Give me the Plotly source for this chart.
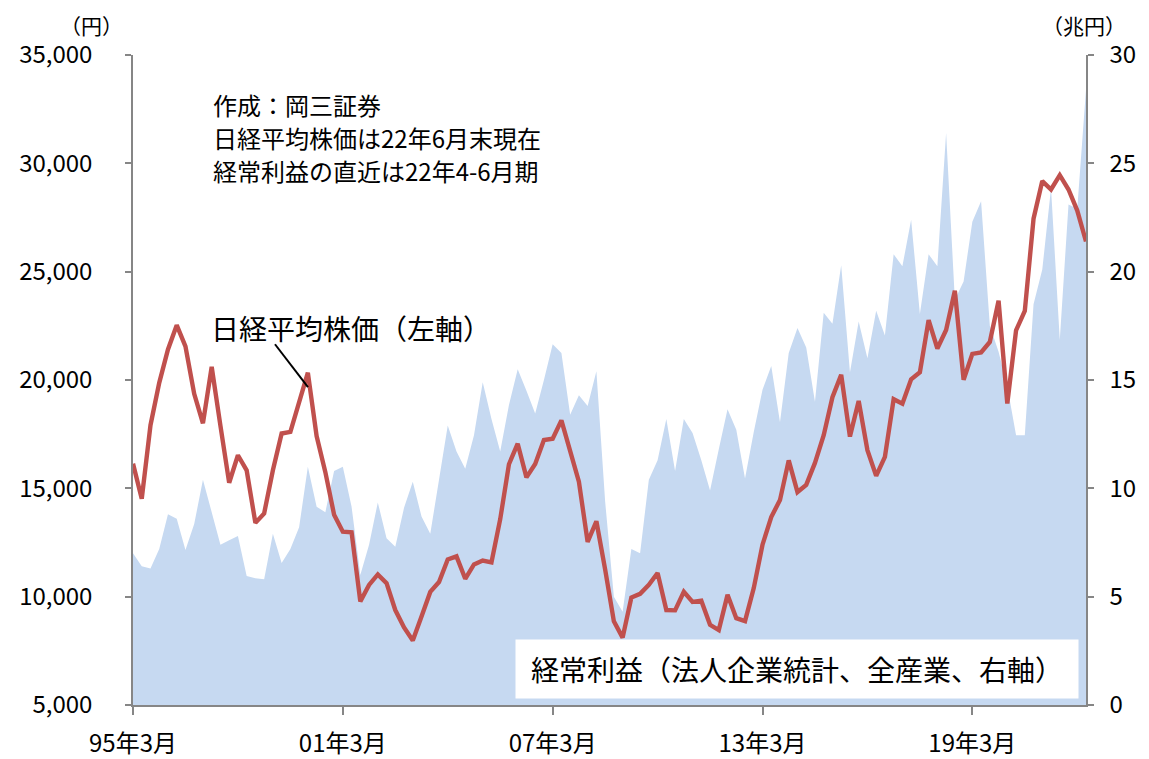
import plotly.graph_objects as go

# Quarterly categories: 1995 Mar .. 2022 Jun
years = list(range(1995, 2023))
months = [3, 6, 9, 12]
quarters = [f"{y % 100:02d}年{m}月" for y in years for m in months][:110]

# Nikkei 225 quarter-end close (yen)
nikkei = [
    16140, 14517, 17913, 19868,
    21407, 22531, 21556, 19361,
    18003, 20605, 17888, 15259,
    16527, 15830, 13406, 13842,
    15837, 17530, 17605, 18934,
    20337, 17411, 15747, 13786,
    12999, 12969, 9775, 10543,
    11025, 10622, 9383, 8579,
    7973, 9083, 10219, 10677,
    11715, 11859, 10824, 11489,
    11669, 11584, 13574, 16111,
    17060, 15505, 16128, 17226,
    17288, 18138, 16786, 15308,
    12526, 13481, 11260, 8860,
    8110, 9958, 10133, 10546,
    11090, 9383, 9369, 10229,
    9755, 9816, 8700, 8455,
    10084, 9007, 8870, 10395,
    12398, 13677, 14456, 16291,
    14828, 15162, 16174, 17451,
    19207, 20236, 17388, 19034,
    16759, 15576, 16450, 19114,
    18909, 20033, 20356, 22765,
    21454, 22305, 24120, 20015,
    21206, 21276, 21756, 23657,
    18917, 22288, 23185, 27444,
    29179, 28792, 29453, 28792,
    27821, 26393,
]

# Ordinary profit, all industries (trillion yen)
profit = [
    7.0, 6.4, 6.3, 7.2,
    8.8, 8.6, 7.15, 8.35,
    10.4, 8.9, 7.4, 7.6,
    7.8, 5.95, 5.85, 5.8,
    7.9, 6.55, 7.2, 8.2,
    11.0, 9.15, 8.9, 10.8,
    11.0, 9.15, 6.0, 7.4,
    9.35, 7.7, 7.3, 9.1,
    10.3, 8.7, 7.9, 10.4,
    12.9, 11.7, 10.9, 12.45,
    14.9, 13.2, 11.7, 13.85,
    15.5, 14.5, 13.45, 15.0,
    16.65, 16.25, 13.4, 14.3,
    13.8, 15.4, 9.4, 5.0,
    4.3, 7.2, 7.0, 10.4,
    11.3, 13.2, 10.8, 13.2,
    12.55, 11.3, 9.9, 11.8,
    13.65, 12.7, 10.45, 12.6,
    14.55, 15.65, 13.05, 16.25,
    17.4, 16.5, 14.0, 18.1,
    17.6, 20.3, 15.35, 17.7,
    16.0, 18.2, 17.05, 20.8,
    20.25, 22.4, 18.05, 20.8,
    20.25, 26.4, 18.7, 19.55,
    22.3, 23.25, 17.5, 16.3,
    14.7, 12.45, 12.45, 18.5,
    20.1, 23.85, 16.85, 23.1,
    22.9, 28.4,
]

tick_labels = ["95年3月", "01年3月", "07年3月", "13年3月", "19年3月"]
notes = ["作成：岡三証券", "日経平均株価は22年6月末現在", "経常利益の直近は22年4-6月期"]

FONT = "Noto Sans CJK JP"
AXIS_COLOR = "#868686"

fig = go.Figure()

fig.add_trace(go.Scatter(
    x=quarters, y=profit, yaxis="y", mode="lines",
    line=dict(width=0, color="#C6D9F1"),
    fill="tozeroy", fillcolor="#C6D9F1",
    name="経常利益", showlegend=False, hoverinfo="skip",
))

fig.add_trace(go.Scatter(
    x=quarters, y=nikkei, yaxis="y2", mode="lines",
    line=dict(width=4.4, color="#C0504D"),
    name="日経平均株価", showlegend=False,
))

# page body has an 8px default margin, so the figure is 8px smaller
fig.update_layout(
    width=1141, height=751,
    margin=dict(l=125, r=63, t=47, b=54),
    paper_bgcolor="white", plot_bgcolor="white",
    font=dict(family=FONT, size=24, color="black"),
    xaxis=dict(
        type="category", range=[0, len(quarters) - 1], automargin=False,
        tickmode="array", tickvals=quarters[::24], ticktext=tick_labels,
        showline=True, linecolor=AXIS_COLOR, linewidth=1.5,
        ticks="outside", ticklen=8, tickcolor=AXIS_COLOR, tickwidth=1.5,
        showgrid=False, zeroline=False,
        tickfont=dict(size=24), ticklabelstandoff=8,
    ),
    yaxis=dict(
        side="right", range=[0, 30], dtick=5, tick0=0, automargin=False,
        showline=True, linecolor=AXIS_COLOR, linewidth=1.5,
        ticks="outside", ticklen=6, tickcolor=AXIS_COLOR, tickwidth=1.5,
        showgrid=False, zeroline=False,
        tickfont=dict(size=24), ticklabelstandoff=11,
    ),
    yaxis2=dict(
        side="left", overlaying="y", range=[5000, 35000], dtick=5000,
        tickformat=",d", automargin=False,
        showline=True, linecolor=AXIS_COLOR, linewidth=1.5,
        ticks="outside", ticklen=6, tickcolor=AXIS_COLOR, tickwidth=1.5,
        showgrid=False, zeroline=False,
        tickfont=dict(size=24), ticklabelstandoff=28,
    ),
)

# Leader line from label to the Nikkei line
fig.add_shape(type="line", xref="paper", yref="paper",
              x0=0.149, y0=0.555, x1=0.1836, y1=0.489,
              line=dict(color="black", width=2))

for i, line_text in enumerate(notes):
    fig.add_annotation(
        xref="paper", yref="paper", x=0.0818, y=0.9246 - i * 0.0508,
        xanchor="left", yanchor="middle", align="left", showarrow=False,
        text=line_text, font=dict(size=24, color="black", family=FONT),
    )

fig.add_annotation(
    xref="paper", yref="paper", x=0.0795, y=0.58,
    xanchor="left", yanchor="middle", showarrow=False,
    text="日経平均株価（左軸）",
    font=dict(size=28, color="black", family=FONT),
)

fig.add_annotation(
    xref="paper", yref="paper", x=0.6967, y=0.0554,
    xanchor="center", yanchor="middle", showarrow=False,
    text="経常利益（法人企業統計、全産業、右軸）",
    width=552, height=48, borderpad=5, bgcolor="white",
    font=dict(size=28, color="black", family=FONT),
)

fig.add_annotation(
    xref="paper", yref="paper", x=-0.044, y=1.046,
    xanchor="center", yanchor="middle", showarrow=False,
    text="（円）", font=dict(size=21, color="black", family=FONT),
)
fig.add_annotation(
    xref="paper", yref="paper", x=0.998, y=1.046,
    xanchor="center", yanchor="middle", showarrow=False,
    text="（兆円）", font=dict(size=21, color="black", family=FONT),
)

fig.write_html("out.html")
